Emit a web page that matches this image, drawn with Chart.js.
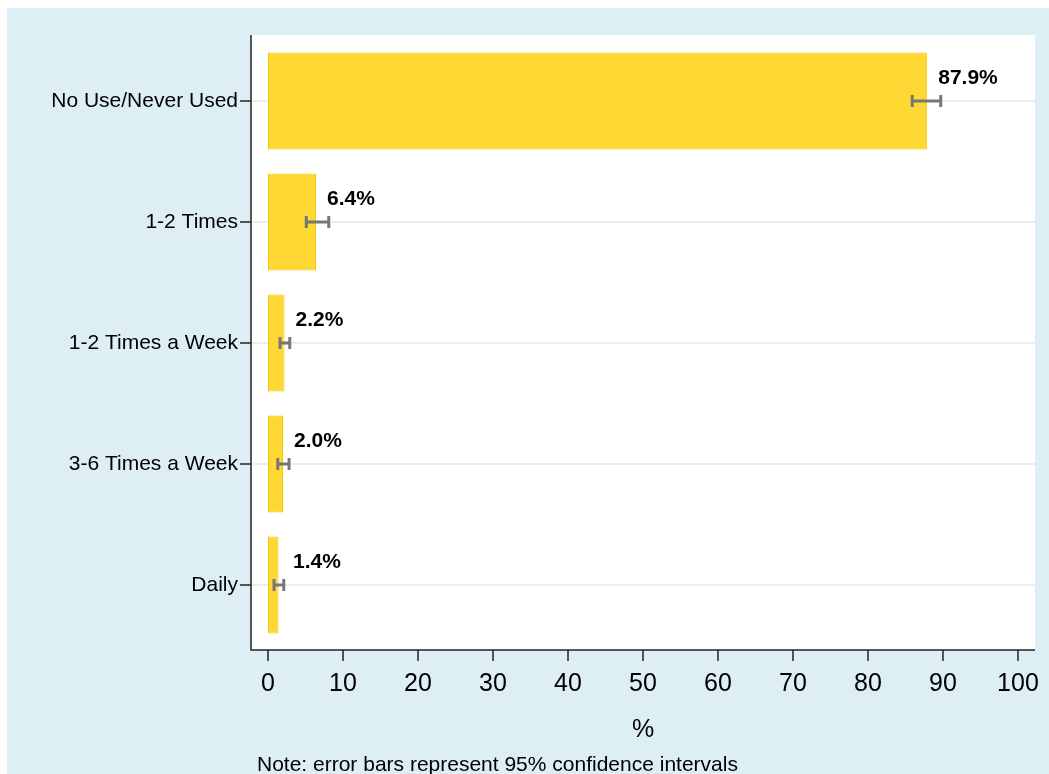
<!DOCTYPE html>
<html>
<head>
<meta charset="utf-8">
<script src="https://cdn.jsdelivr.net/npm/chart.js@4"></script>
<style>
  html, body { margin: 0; padding: 0; background: #fff; }
  canvas { display: block; }
</style>
</head>
<body>
<canvas id="chart" width="1049" height="774"></canvas>
<script>
const categories = ['No Use/Never Used', '1-2 Times', '1-2 Times a Week', '3-6 Times a Week', 'Daily'];
const percents = [87.9, 6.4, 2.2, 2.0, 1.4];
const ciLower = [85.9, 5.1, 1.6, 1.3, 0.8];
const ciUpper = [89.7, 8.1, 2.9, 2.8, 2.1];
const xTicks = [0, 10, 20, 30, 40, 50, 60, 70, 80, 90, 100];
const axisTitle = '%';
const noteText = 'Note: error bars represent 95% confidence intervals';

const FONT = '"Liberation Sans", Arial, sans-serif';

// panel, plot background, axis lines, error bars and value labels
const decorations = {
  id: 'decorations',
  beforeDraw: (chart) => {
    const ctx = chart.ctx;
    const area = chart.chartArea;
    ctx.save();
    ctx.fillStyle = '#fff';
    ctx.fillRect(0, 0, chart.width, chart.height);
    ctx.fillStyle = '#DEEEF5';
    ctx.fillRect(7, 8, chart.width - 7, chart.height - 8);
    ctx.fillStyle = '#fff';
    ctx.fillRect(area.left, area.top - 5.5, area.right - area.left, area.bottom - area.top + 10);
    ctx.restore();
  },
  afterDatasetsDraw: (chart) => {
    const ctx = chart.ctx;
    const x = chart.scales.x;
    const y = chart.scales.y;
    ctx.save();
    ctx.strokeStyle = '#767676';
    ctx.lineWidth = 3;
    percents.forEach((v, i) => {
      const cy = y.getPixelForValue(i);
      const x0 = x.getPixelForValue(ciLower[i]);
      const x1 = x.getPixelForValue(ciUpper[i]);
      ctx.beginPath();
      ctx.moveTo(x0, cy); ctx.lineTo(x1, cy);
      ctx.moveTo(x0, cy - 6); ctx.lineTo(x0, cy + 6);
      ctx.moveTo(x1, cy - 6); ctx.lineTo(x1, cy + 6);
      ctx.stroke();
    });
    ctx.fillStyle = '#000';
    ctx.font = 'bold 21px ' + FONT;
    ctx.textAlign = 'left';
    ctx.textBaseline = 'middle';
    percents.forEach((v, i) => {
      const cy = y.getPixelForValue(i);
      const lx = Math.max(x.getPixelForValue(v) + 11, x.getPixelForValue(0) + 25);
      ctx.fillText(v.toFixed(1) + '%', lx, cy - 23);
    });
    ctx.restore();
  },
  afterDraw: (chart) => {
    const ctx = chart.ctx;
    const area = chart.chartArea;
    const x = chart.scales.x;
    const bottom = area.bottom + 4.5;
    ctx.save();
    ctx.strokeStyle = '#222';
    ctx.lineWidth = 1.5;
    ctx.beginPath();
    ctx.moveTo(area.left, area.top - 5.5);
    ctx.lineTo(area.left, bottom);
    ctx.lineTo(area.right, bottom);
    xTicks.forEach((t) => {
      const px = x.getPixelForValue(t);
      ctx.moveTo(px, bottom);
      ctx.lineTo(px, bottom + 11);
    });
    ctx.stroke();
    ctx.fillStyle = '#000';
    ctx.textBaseline = 'middle';
    ctx.textAlign = 'center';
    ctx.font = '25px ' + FONT;
    ctx.fillText(axisTitle, x.getPixelForValue(50), 730);
    ctx.textAlign = 'left';
    ctx.font = '21px ' + FONT;
    ctx.fillText(noteText, 257, 765);
    ctx.restore();
  }
};

new Chart(document.getElementById('chart').getContext('2d'), {
  type: 'bar',
  data: {
    labels: categories,
    datasets: [{
      data: percents,
      backgroundColor: '#FFD834',
      borderColor: '#F2C700',
      borderWidth: 1,
      borderSkipped: false,
      barPercentage: 0.8,
      categoryPercentage: 1.0
    }]
  },
  options: {
    indexAxis: 'y',
    responsive: false,
    animation: false,
    layout: { padding: { left: 0, top: 40.5, right: 14, bottom: 0 } },
    plugins: {
      legend: { display: false },
      tooltip: { enabled: false }
    },
    scales: {
      x: {
        min: -2.27,
        max: 102.27,
        afterFit: (scale) => {
          scale.height = 128.5;
          scale.paddingLeft = 0;
          scale.paddingRight = 0;
        },
        afterBuildTicks: (scale) => { scale.ticks = xTicks.map((v) => ({ value: v })); },
        border: { display: false },
        grid: { display: false, drawTicks: false },
        ticks: {
          color: '#000',
          font: { family: FONT, size: 25 },
          padding: 24,
          maxRotation: 0,
          autoSkip: false
        }
      },
      y: {
        afterFit: (scale) => {
          scale.width = 251;
          scale.paddingTop = 0;
          scale.paddingBottom = 0;
        },
        border: { display: false },
        grid: {
          offset: false,
          color: '#E5EEF2',
          lineWidth: 2,
          tickColor: '#222',
          tickWidth: 1.5,
          tickLength: 11
        },
        ticks: {
          color: '#000',
          font: { family: FONT, size: 21 },
          padding: 2
        }
      }
    }
  },
  plugins: [decorations]
});
</script>
</body>
</html>
